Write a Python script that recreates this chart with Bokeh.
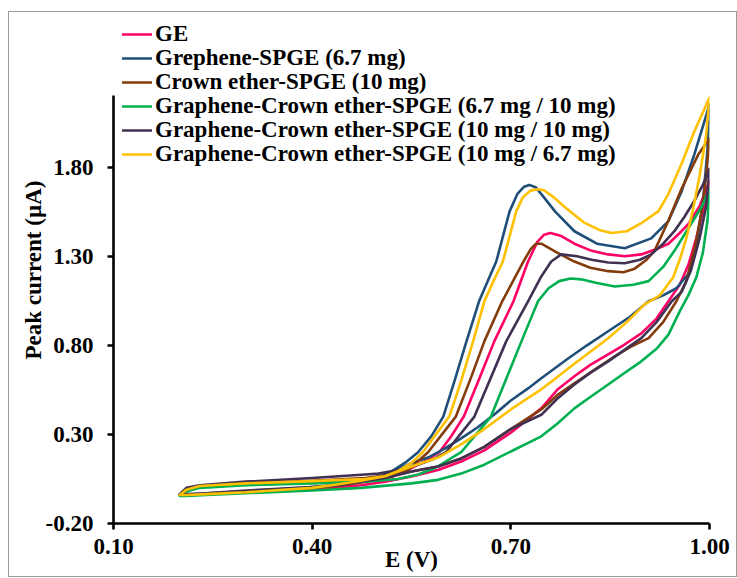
from bokeh.plotting import figure
from bokeh.models import Range1d, FixedTicker, NumeralTickFormatter, Legend, LegendItem
from bokeh.embed import file_html
from bokeh.resources import INLINE

# ---------------- data ----------------
labels = [
    "GE",
    "Grephene-SPGE (6.7 mg)",
    "Crown ether-SPGE (10 mg)",
    "Graphene-Crown ether-SPGE (6.7 mg / 10 mg)",
    "Graphene-Crown ether-SPGE (10 mg / 10 mg)",
    "Graphene-Crown ether-SPGE (10 mg / 6.7 mg)",
]
colors = ["#FF0066", "#1F4E79", "#843C0C", "#00B050", "#403152", "#FFC000"]

x_ticks = [0.10, 0.40, 0.70, 1.00]
y_ticks = [-0.20, 0.30, 0.80, 1.30, 1.80]

# GE
ge_e_fwd = [0.200, 0.210, 0.230, 0.300, 0.400, 0.480, 0.520, 0.549, 0.570, 0.592, 0.610, 0.629, 0.652, 0.675, 0.704, 0.726, 0.740, 0.750, 0.760, 0.775, 0.796, 0.822, 0.847, 0.872, 0.897, 0.920, 0.938, 0.955, 0.968, 0.985, 1.000]
ge_i_fwd = [-0.040, -0.010, 0.008, 0.020, 0.032, 0.045, 0.060, 0.109, 0.150, 0.200, 0.290, 0.400, 0.610, 0.822, 1.047, 1.270, 1.380, 1.420, 1.430, 1.415, 1.370, 1.330, 1.310, 1.300, 1.310, 1.340, 1.370, 1.430, 1.480, 1.580, 1.720]
ge_e_rev = [0.995, 0.990, 0.980, 0.968, 0.955, 0.938, 0.920, 0.897, 0.870, 0.847, 0.820, 0.796, 0.770, 0.746, 0.700, 0.660, 0.625, 0.590, 0.550, 0.510, 0.474, 0.400, 0.300, 0.240, 0.210, 0.200]
ge_i_rev = [1.620, 1.550, 1.400, 1.250, 1.140, 1.047, 0.950, 0.867, 0.800, 0.749, 0.690, 0.626, 0.550, 0.446, 0.310, 0.210, 0.148, 0.100, 0.064, 0.035, 0.015, -0.010, -0.025, -0.035, -0.040, -0.040]

# Grephene-SPGE (6.7 mg)
gr_e_fwd = [0.200, 0.210, 0.230, 0.300, 0.400, 0.470, 0.500, 0.520, 0.540, 0.560, 0.580, 0.598, 0.615, 0.633, 0.652, 0.665, 0.678, 0.698, 0.710, 0.720, 0.728, 0.738, 0.750, 0.767, 0.796, 0.830, 0.872, 0.912, 0.938, 0.958, 0.977, 1.000]
gr_i_fwd = [-0.040, -0.010, 0.010, 0.025, 0.035, 0.045, 0.060, 0.092, 0.140, 0.200, 0.290, 0.400, 0.600, 0.822, 1.047, 1.160, 1.270, 1.550, 1.650, 1.690, 1.700, 1.685, 1.630, 1.550, 1.440, 1.370, 1.345, 1.400, 1.497, 1.665, 1.870, 2.150]
gr_e_rev = [0.997, 0.990, 0.980, 0.968, 0.950, 0.930, 0.908, 0.880, 0.847, 0.815, 0.787, 0.766, 0.746, 0.726, 0.700, 0.675, 0.650, 0.625, 0.600, 0.575, 0.550, 0.524, 0.500, 0.474, 0.440, 0.400, 0.300, 0.240, 0.210, 0.200]
gr_i_rev = [1.900, 1.600, 1.360, 1.200, 1.120, 1.080, 1.047, 0.960, 0.879, 0.800, 0.727, 0.670, 0.615, 0.558, 0.490, 0.412, 0.340, 0.278, 0.220, 0.170, 0.140, 0.090, 0.060, 0.040, 0.018, 0.005, -0.020, -0.030, -0.040, -0.040]

# Crown ether-SPGE (10 mg)
ce_e_fwd = [0.200, 0.210, 0.230, 0.300, 0.400, 0.480, 0.515, 0.545, 0.575, 0.596, 0.617, 0.640, 0.660, 0.687, 0.719, 0.730, 0.738, 0.746, 0.770, 0.796, 0.820, 0.847, 0.870, 0.887, 0.905, 0.917, 0.938, 0.958, 0.983, 1.000]
ce_i_fwd = [-0.040, -0.010, 0.010, 0.025, 0.040, 0.055, 0.070, 0.100, 0.200, 0.300, 0.400, 0.620, 0.822, 1.047, 1.270, 1.340, 1.370, 1.370, 1.320, 1.270, 1.235, 1.216, 1.210, 1.230, 1.280, 1.330, 1.500, 1.680, 1.870, 1.960]
ce_e_rev = [0.995, 0.988, 0.978, 0.965, 0.950, 0.930, 0.908, 0.880, 0.857, 0.825, 0.796, 0.770, 0.746, 0.700, 0.660, 0.625, 0.590, 0.550, 0.510, 0.474, 0.440, 0.400, 0.300, 0.240, 0.210, 0.200]
ce_i_rev = [1.750, 1.550, 1.350, 1.160, 1.047, 0.930, 0.840, 0.790, 0.738, 0.660, 0.587, 0.520, 0.440, 0.330, 0.230, 0.165, 0.120, 0.092, 0.055, 0.030, 0.012, 0.000, -0.020, -0.035, -0.040, -0.040]

# Graphene-Crown ether-SPGE (6.7 mg / 10 mg)
g1_e_fwd = [0.200, 0.210, 0.230, 0.300, 0.400, 0.480, 0.530, 0.560, 0.585, 0.625, 0.670, 0.716, 0.741, 0.757, 0.773, 0.790, 0.806, 0.830, 0.857, 0.885, 0.908, 0.930, 0.947, 0.962, 0.977, 0.990, 1.000]
g1_i_fwd = [-0.045, -0.020, 0.000, 0.015, 0.025, 0.035, 0.050, 0.075, 0.110, 0.200, 0.400, 0.822, 1.047, 1.120, 1.160, 1.175, 1.170, 1.150, 1.130, 1.140, 1.160, 1.240, 1.330, 1.420, 1.510, 1.590, 1.680]
g1_e_rev = [0.997, 0.990, 0.980, 0.968, 0.955, 0.938, 0.920, 0.897, 0.870, 0.847, 0.820, 0.796, 0.770, 0.746, 0.700, 0.660, 0.625, 0.590, 0.550, 0.474, 0.400, 0.300, 0.240, 0.210, 0.200]
g1_i_rev = [1.500, 1.320, 1.180, 1.080, 0.990, 0.860, 0.780, 0.710, 0.640, 0.580, 0.510, 0.446, 0.360, 0.289, 0.204, 0.130, 0.080, 0.045, 0.025, 0.000, -0.015, -0.030, -0.040, -0.045, -0.045]

# Graphene-Crown ether-SPGE (10 mg / 10 mg)
g2_e_fwd = [0.200, 0.210, 0.230, 0.300, 0.400, 0.480, 0.500, 0.530, 0.560, 0.585, 0.602, 0.645, 0.693, 0.726, 0.745, 0.761, 0.776, 0.800, 0.822, 0.847, 0.872, 0.895, 0.912, 0.930, 0.947, 0.962, 0.977, 0.990, 1.000]
g2_i_fwd = [-0.035, 0.000, 0.015, 0.035, 0.055, 0.075, 0.080, 0.100, 0.130, 0.165, 0.200, 0.400, 0.822, 1.047, 1.180, 1.270, 1.310, 1.300, 1.280, 1.265, 1.260, 1.280, 1.310, 1.370, 1.440, 1.520, 1.610, 1.700, 1.790]
g2_e_rev = [0.995, 0.985, 0.972, 0.958, 0.943, 0.920, 0.897, 0.870, 0.847, 0.820, 0.796, 0.770, 0.746, 0.700, 0.660, 0.625, 0.590, 0.550, 0.510, 0.474, 0.440, 0.400, 0.300, 0.240, 0.210, 0.200]
g2_i_rev = [1.580, 1.400, 1.220, 1.100, 1.047, 0.930, 0.840, 0.770, 0.710, 0.645, 0.580, 0.500, 0.410, 0.330, 0.230, 0.165, 0.120, 0.092, 0.055, 0.035, 0.015, 0.005, -0.015, -0.030, -0.035, -0.035]

# Graphene-Crown ether-SPGE (10 mg / 6.7 mg)
g3_e_fwd = [0.200, 0.210, 0.230, 0.300, 0.400, 0.480, 0.510, 0.530, 0.550, 0.567, 0.587, 0.607, 0.625, 0.643, 0.660, 0.675, 0.688, 0.708, 0.718, 0.730, 0.740, 0.750, 0.765, 0.780, 0.810, 0.835, 0.852, 0.875, 0.897, 0.923, 0.938, 0.958, 0.977, 1.000]
g3_i_fwd = [-0.040, -0.010, 0.010, 0.025, 0.038, 0.050, 0.065, 0.095, 0.140, 0.200, 0.300, 0.400, 0.600, 0.822, 1.047, 1.170, 1.270, 1.550, 1.630, 1.668, 1.676, 1.670, 1.630, 1.580, 1.490, 1.445, 1.430, 1.440, 1.485, 1.553, 1.650, 1.820, 2.000, 2.190]
g3_e_rev = [0.995, 0.985, 0.975, 0.965, 0.955, 0.945, 0.925, 0.902, 0.875, 0.847, 0.815, 0.787, 0.766, 0.746, 0.720, 0.700, 0.660, 0.625, 0.590, 0.550, 0.510, 0.474, 0.440, 0.400, 0.300, 0.240, 0.210, 0.200]
g3_i_rev = [1.980, 1.750, 1.560, 1.400, 1.280, 1.180, 1.080, 1.030, 0.930, 0.840, 0.750, 0.671, 0.610, 0.553, 0.490, 0.440, 0.330, 0.244, 0.170, 0.120, 0.065, 0.040, 0.020, 0.000, -0.025, -0.035, -0.040, -0.040]

series = [
    (ge_e_fwd + ge_e_rev, ge_i_fwd + ge_i_rev),
    (gr_e_fwd + gr_e_rev, gr_i_fwd + gr_i_rev),
    (ce_e_fwd + ce_e_rev, ce_i_fwd + ce_i_rev),
    (g1_e_fwd + g1_e_rev, g1_i_fwd + g1_i_rev),
    (g2_e_fwd + g2_e_rev, g2_i_fwd + g2_i_rev),
    (g3_e_fwd + g3_e_rev, g3_i_fwd + g3_i_rev),
]

FONT = "Liberation Serif"
FS = "23px"

# frame reaches up to the legend; the y axis line itself stops at 2.2
p = figure(
    width=729, height=566,
    x_range=Range1d(0.1, 1.0), y_range=Range1d(-0.2, 2.645),
    output_backend="svg", toolbar_location=None,
    min_border_left=104, min_border_top=4, min_border_right=29, min_border_bottom=55,
)
p.margin = (11, 0, 0, 8)
p.styles = {"border": "1.5px solid #9a9a9a"}
p.outline_line_color = None
p.xgrid.visible = False
p.ygrid.visible = False
p.background_fill_color = "white"
p.border_fill_color = "white"

renderers = []
for (e, i), col in zip(series, colors):
    r = p.line(e, i, line_color=col, line_width=2.6, line_join="round", line_cap="round")
    renderers.append(r)

for ax in (p.xaxis[0], p.yaxis[0]):
    ax.axis_line_width = 2.6
    ax.axis_line_color = "black"
    ax.major_tick_line_width = 2.6
    ax.major_tick_line_color = "black"
    ax.major_tick_in = 0
    ax.major_tick_out = 6
    ax.minor_tick_line_color = None
    ax.major_label_text_font = FONT
    ax.major_label_text_font_style = "bold"
    ax.major_label_text_font_size = FS
    ax.major_label_text_color = "black"
    ax.formatter = NumeralTickFormatter(format="0.00")
    ax.axis_label_text_font = FONT
    ax.axis_label_text_font_style = "bold"
    ax.axis_label_text_font_size = FS
    ax.axis_label_text_color = "black"

p.xaxis.ticker = FixedTicker(ticks=x_ticks)
p.yaxis.ticker = FixedTicker(ticks=y_ticks)
p.yaxis.bounds = (-0.2, 2.2)
p.xaxis.major_label_standoff = 9
p.yaxis.major_label_standoff = 14

p.xaxis.axis_label = "E (V)"
p.xaxis.axis_label_standoff = -10
p.yaxis.axis_label = "Peak current (µA)"
p.yaxis.axis_label_standoff = -3

# one legend entry per row so the rows sit 24 px apart as in the reference
row_offsets = [476, 452, 428, 404, 380, 356]
for lab, r, off in zip(labels, renderers, row_offsets):
    lg = Legend(items=[LegendItem(label=lab, renderers=[r])], location=(9, off),
                orientation="vertical",
                label_text_font=FONT, label_text_font_style="bold", label_text_font_size=FS,
                label_text_color="black", glyph_width=30, glyph_height=20, label_height=20,
                label_standoff=3, spacing=0, padding=0, margin=0,
                border_line_color=None, background_fill_alpha=0.0)
    p.add_layout(lg)

open("out.html", "w").write(file_html(p, INLINE))
